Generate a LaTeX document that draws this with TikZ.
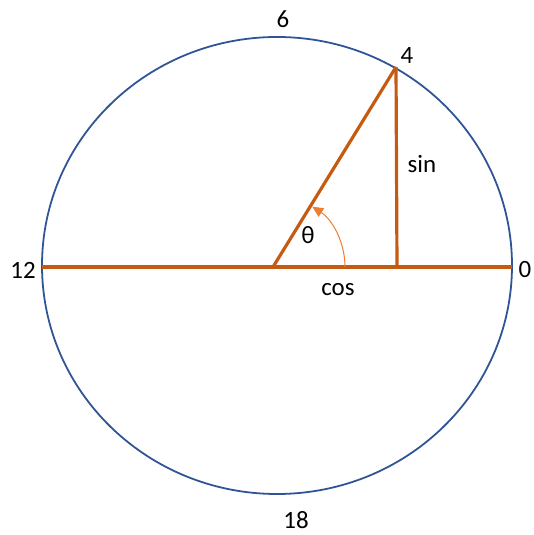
\documentclass[tikz,border=0pt]{standalone}
\usepackage{fontspec}
\setmainfont{Carlito}
\usetikzlibrary{arrows.meta}
\definecolor{dialblue}{RGB}{47,85,151}
\definecolor{trigorange}{RGB}{197,90,17}
\definecolor{arcorange}{RGB}{237,125,49}
\tikzset{
  clocklabel/.style={inner sep=0pt,font=\fontsize{25}{30}\selectfont},
  trigline/.style={trigorange,line width=3.2pt},
}

\begin{document}
\begin{tikzpicture}[x=1bp,y=1bp]
        \useasboundingbox (0,0) rectangle (534,535);
        \draw[dialblue,line width=1.8pt] (277,269.5) ellipse [x radius=235,y radius=228.5];
        % points on the dial
        \coordinate (O) at (273,268);
        \coordinate (W) at (42,268);
        \coordinate (E) at (512,268);
        \coordinate (P) at (396,468);
        \coordinate (F) at (397,268);
        \draw[trigline] (W) -- (E);
        \draw[trigline] (O) -- (P);
        \draw[trigline] (P) -- (F);
        \draw[arcorange,line width=1pt,-{Triangle[length=11pt,width=10pt]}]
              (345,268) arc[start angle=0,end angle=57,radius=72];
        % labels
        \node[clocklabel] (six)      at (283,516) {6};
        \node[clocklabel] (four)     at (407,479) {4};
        \node[clocklabel] (twelve)   at (23,265)  {12};
        \node[clocklabel] (zero)     at (525,265) {0};
        \node[clocklabel] (eighteen) at (296,15)  {18};
        \node[clocklabel] (sinlabel) at (422,371) {sin};
        \node[clocklabel] (theta)    at (308,300) {θ};
        \node[clocklabel] (coslabel) at (338,245) {cos};
      \end{tikzpicture}
\end{document}
